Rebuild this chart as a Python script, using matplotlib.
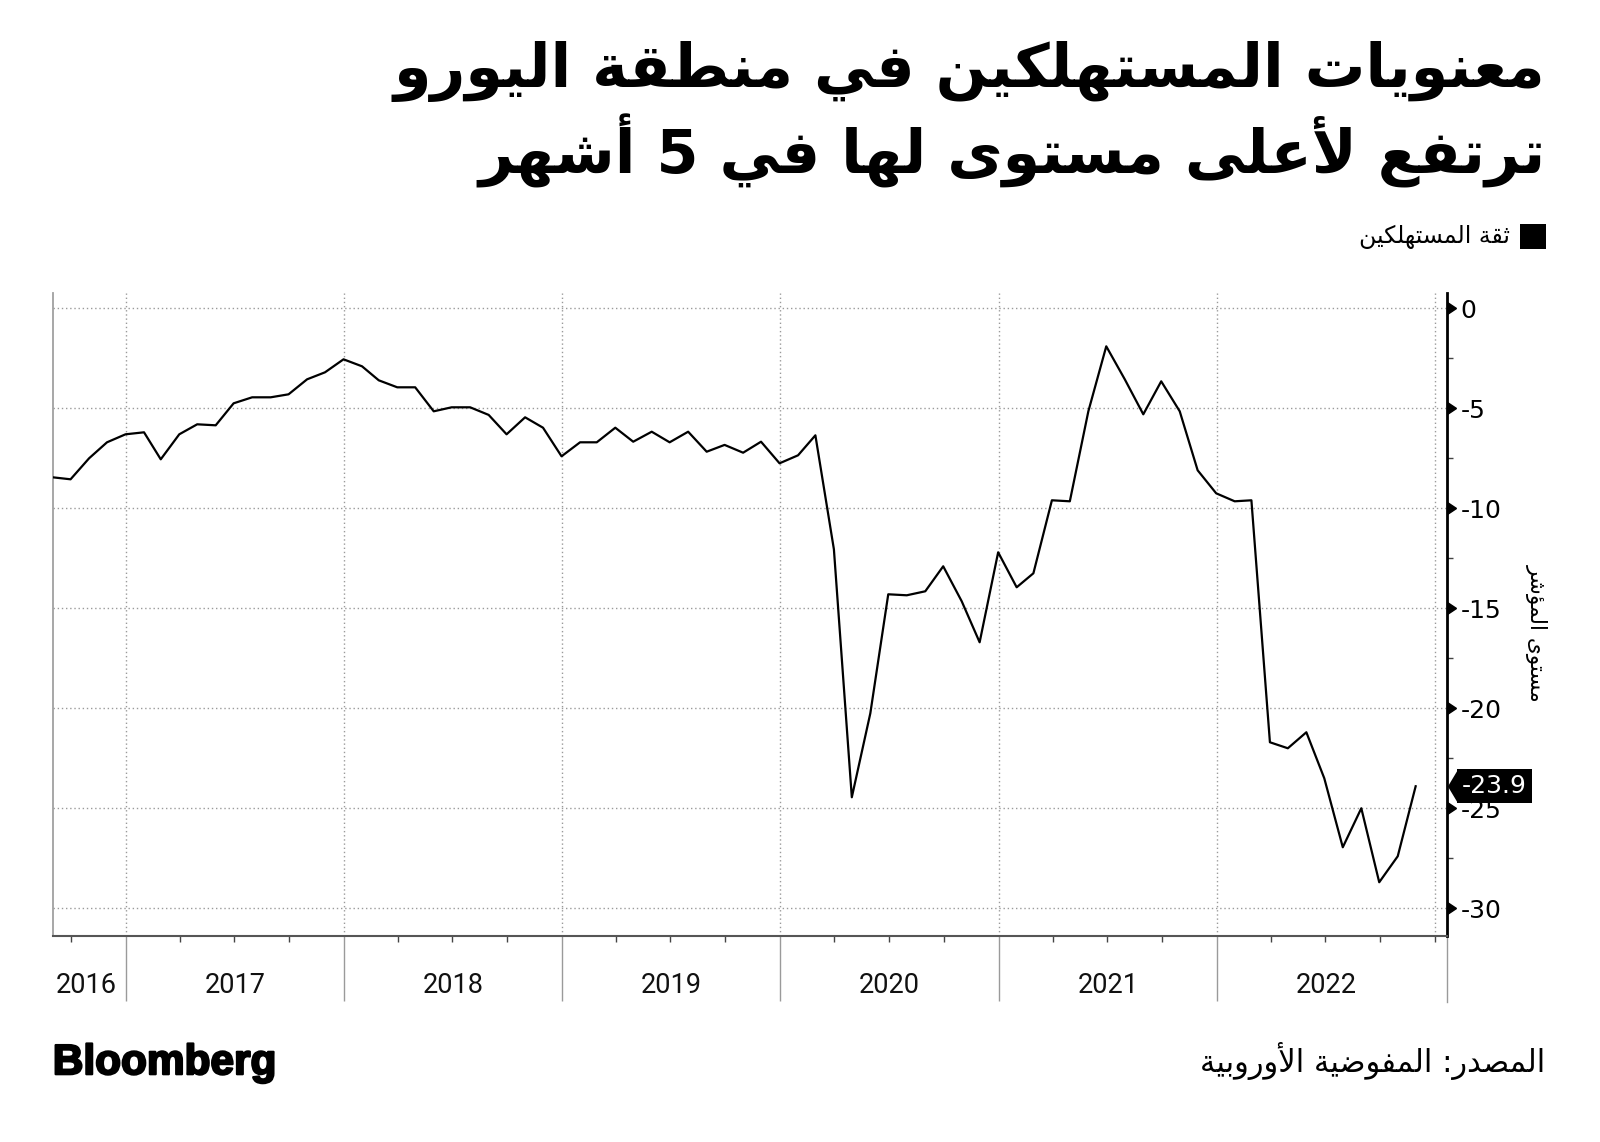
import numpy as np
import pandas as pd
import matplotlib
matplotlib.use("Agg")
import matplotlib.pyplot as plt
import matplotlib.markers as mmarkers
import matplotlib.transforms as mtransforms
import matplotlib.patheffects as pe
from matplotlib.patches import Rectangle

plt.rcParams['axes.unicode_minus'] = False
plt.rcParams['font.family'] = ['DejaVu Sans']

# euro-area consumer confidence, monthly (month end), Aug 2016 .. Nov 2022
first_month = "2016-09-01"
confidence = [-8.45, -8.55, -7.5, -6.7, -6.3, -6.2, -7.55, -6.3, -5.8, -5.85, -4.75, -4.45,
              -4.45, -4.3, -3.55, -3.2, -2.55, -2.9, -3.6, -3.95, -3.95, -5.15, -4.95, -4.95,
              -5.33, -6.3, -5.45, -5.97, -7.4, -6.7, -6.7, -5.97, -6.67, -6.17, -6.7, -6.17,
              -7.17, -6.83, -7.22, -6.67, -7.75, -7.35, -6.35, -12.05, -24.45, -20.25, -14.3, -14.35,
              -14.15, -12.9, -14.65, -16.7, -12.2, -13.95, -13.25, -9.6, -9.65, -5.15, -1.9, -3.55,
              -5.3, -3.65, -5.15, -8.1, -9.25, -9.65, -9.6, -21.7, -22.0, -21.2, -23.5, -26.95,
              -25.0, -28.7, -27.4, -23.9]
last_label = "-23.9"
years = [2016, 2017, 2018, 2019, 2020, 2021, 2022]
y_ticks = [0, -5, -10, -15, -20, -25, -30]

title1 = "معنويات المستهلكين في منطقة اليورو"
title2 = "ترتفع لأعلى مستوى لها في 5 أشهر"
legend_text = "ثقة المستهلكين"
ylabel_text = "مستوى المؤشر"
source_text = "المصدر: المفوضية الأوروبية"


# --- tiny arabic shaper (matplotlib has no shaping / bidi) ---
_order = [(0x621, 1), (0x622, 2), (0x623, 2), (0x624, 2), (0x625, 2), (0x626, 4), (0x627, 2),
          (0x628, 4), (0x629, 2), (0x62A, 4), (0x62B, 4), (0x62C, 4), (0x62D, 4), (0x62E, 4),
          (0x62F, 2), (0x630, 2), (0x631, 2), (0x632, 2), (0x633, 4), (0x634, 4), (0x635, 4),
          (0x636, 4), (0x637, 4), (0x638, 4), (0x639, 4), (0x63A, 4), (0x641, 4), (0x642, 4),
          (0x643, 4), (0x644, 4), (0x645, 4), (0x646, 4), (0x647, 4), (0x648, 2), (0x649, 2),
          (0x64A, 4)]
FORMS = {}
_p = 0xFE80
for cp, n in _order:
    FORMS[chr(cp)] = (_p, n)
    _p += n
LAMALEF = {'آ': 0xFEF5, 'أ': 0xFEF7, 'إ': 0xFEF9, 'ا': 0xFEFB}


def shape(s):
    out = []
    i = 0
    while i < len(s):
        c = s[i]
        if c not in FORMS:
            out.append(c)
            i += 1
            continue
        prev = s[i - 1] if i > 0 else ''
        join_prev = prev in FORMS and FORMS[prev][1] == 4
        if c == 'ل' and i + 1 < len(s) and s[i + 1] in LAMALEF:
            base = LAMALEF[s[i + 1]]
            out.append(chr(base + 1 if join_prev else base))
            i += 2
            continue
        base, n = FORMS[c]
        nxt = s[i + 1] if i + 1 < len(s) else ''
        join_next = n == 4 and nxt in FORMS and FORMS[nxt][1] > 1
        if n == 1:
            out.append(chr(base))
        elif join_prev and join_next:
            out.append(chr(base + 3))
        elif join_prev:
            out.append(chr(base + 1))
        elif join_next:
            out.append(chr(base + 2))
        else:
            out.append(chr(base))
        i += 1
    return ''.join(out)[::-1]


dates = pd.date_range(first_month, periods=len(confidence), freq="MS") - pd.Timedelta(days=1)
year_starts = [pd.Timestamp(f"{y}-01-01") for y in years[1:]] + [pd.Timestamp("2023-01-01")]
x_left = pd.Timestamp("2016-08-31")
x_right = pd.Timestamp("2023-01-21")

fig = plt.figure(figsize=(16, 11.42), dpi=100)
ax = fig.add_axes([0.0329, 0.18, 0.8713, 0.5635])

for d in year_starts:
    ax.axvline(d, color='#9a9a9a', lw=1, ls=(0, (1, 2)), zorder=1)
for v in y_ticks:
    ax.axhline(v, color='#9a9a9a', lw=1, ls=(0, (1, 2)), zorder=1)

ax.plot(dates, confidence, color='black', lw=1.6, zorder=3)

ax.set_xlim(x_left, x_right)
ax.set_ylim(-31.41, 0.77)

# x axis: long year separators, short quarter ticks
ax.set_xticks(year_starts[:-1])
quarters = pd.date_range("2016-10-01", "2023-01-01", freq="QS")
quarters = [q for q in quarters if q.month != 1 or q.year == 2023]
ax.set_xticks(quarters, minor=True)
ax.tick_params(axis='x', which='major', length=47, width=1, color='#9a9a9a', labelbottom=False)
ax.tick_params(axis='x', which='minor', length=4.5, width=1, color='#444444')

for i, y in enumerate(years):
    a = max(pd.Timestamp(f"{y}-01-01"), x_left)
    b = pd.Timestamp(f"{y + 1}-01-01")
    mid = a + (b - a) / 2
    if y == 2016:
        mid = mid - pd.Timedelta(days=6)
    ax.text(mid, -0.077, str(y), transform=ax.get_xaxis_transform(), ha='center', va='center',
            fontsize=19.5, family='Roboto', color='#111111')

# y axis on the right with caret ticks
ax.yaxis.tick_right()
ax.set_yticks(y_ticks)
ax.set_yticks(np.arange(-2.5, -31, -5), minor=True)
ax.tick_params(axis='y', which='major', length=7.5, width=1, pad=2.5, labelsize=18, colors='black')
ax.tick_params(axis='y', which='minor', length=4, width=1, color='#444444')
for t in ax.yaxis.get_major_ticks():
    t.tick2line.set_marker(mmarkers.CARETRIGHTBASE)
    t.tick2line.set_markersize(9)

ax.spines['top'].set_visible(False)
ax.spines['left'].set_color('#a0a0a0')
ax.spines['left'].set_linewidth(1.3)
ax.spines['bottom'].set_color('#555555')
ax.spines['bottom'].set_linewidth(1.5)
ax.spines['right'].set_color('black')
ax.spines['right'].set_linewidth(2)
ax.plot([1, 1], [0, -0.102], transform=ax.transAxes, color='#9a9a9a', lw=1, clip_on=False)

# last value tag
ax.annotate(last_label, xy=(1, confidence[-1]), xycoords=ax.get_yaxis_transform(),
            xytext=(11, 0), textcoords='offset points', ha='left', va='center',
            color='white', fontsize=18,
            bbox=dict(boxstyle='square,pad=0.2', fc='black', ec='none'),
            annotation_clip=False, zorder=5)
tag_tr = mtransforms.offset_copy(ax.get_yaxis_transform(), fig=fig, x=7.6, y=0, units='points')
ax.plot([1], [confidence[-1]], transform=tag_tr, marker=[(-0.6, 0), (0, 1), (0, -1)],
        ms=23, color='black', mec='none', clip_on=False, zorder=5)

fig.text(0.9605, 0.4457, shape(ylabel_text), rotation=270, ha='center', va='center', fontsize=15.5)

# titles, legend, footer
fig.text(0.966, 0.9375, shape(title1), ha='right', va='center', fontsize=43.5, fontweight='bold')
fig.text(0.966, 0.868, shape(title2), ha='right', va='center', fontsize=43.5, fontweight='bold')

fig.patches.append(Rectangle((0.95, 0.782), 0.01625, 0.0219, transform=fig.transFigure,
                             fc='black', ec='none'))
fig.text(0.944, 0.7925, shape(legend_text), ha='right', va='center', fontsize=17)

fig.text(0.033, 0.069, "Bloomberg", ha='left', va='center', fontsize=30.5, fontweight='bold',
         family='Liberation Sans',
         path_effects=[pe.withStroke(linewidth=1.6, foreground='black')])
fig.text(0.966, 0.071, shape(source_text), ha='right', va='center', fontsize=22)

fig.savefig("out.png", dpi=100, facecolor='white')
